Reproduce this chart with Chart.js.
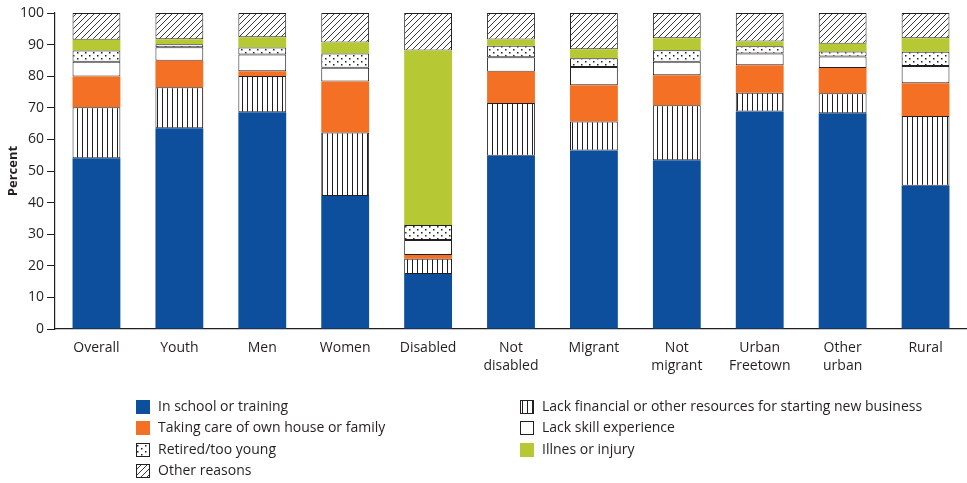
<!DOCTYPE html>
<html>
<head>
<meta charset="utf-8">
<script src="https://cdn.jsdelivr.net/npm/chart.js@4/dist/chart.umd.min.js"></script>
<style>
  body { margin: 0; background: #fff; }
  #wrap { width: 967px; height: 483px; }
</style>
</head>
<body>
<div id="wrap"><canvas id="reasonsChart" width="967" height="483"></canvas></div>
<script>
const categories = ["Overall", "Youth", "Men", "Women", "Disabled", ["Not", "disabled"], "Migrant",
    ["Not", "migrant"], ["Urban", "Freetown"], ["Other", "urban"], "Rural"];
const yTicks = [0, 10, 20, 30, 40, 50, 60, 70, 80, 90, 100];

// stacked from the bottom up
const inSchool      = [54.0, 63.5, 68.6, 42.1, 17.4, 54.8, 56.5, 53.4, 68.8, 68.3, 45.3];
const lackFinancial = [16.2, 13.0, 11.5, 20.1,  4.8, 16.7,  9.2, 17.4,  6.0,  6.3, 22.1];
const takingCare    = [ 9.7,  8.4,  1.5, 16.1,  1.2,  9.9, 11.4,  9.5,  8.7,  8.0, 10.4];
const lackSkill     = [ 4.7,  4.3,  5.3,  4.4,  4.8,  4.6,  5.8,  4.3,  3.7,  3.6,  5.4];
const retired       = [ 3.5,  0.9,  2.2,  4.5,  4.7,  3.6,  2.8,  3.6,  2.3,  1.6,  4.5];
const illness       = [ 3.4,  1.6,  3.2,  3.5, 55.2,  2.0,  2.8,  3.8,  1.5,  2.5,  4.3];
const otherReasons  = [ 8.5,  8.3,  7.7,  9.3, 11.9,  8.4, 11.5,  8.0,  9.0,  9.7,  8.0];

const seriesNames = ["In school or training", "Lack financial or other resources for starting new business",
    "Taking care of own house or family", "Lack skill experience", "Retired/too young",
    "Illnes or injury", "Other reasons"];

const ink = '#231f20';
const font = "'Open Sans', 'Noto Sans', sans-serif";

// small tiles used as fill patterns
function makePattern(kind) {
    const c = document.createElement('canvas');
    const g = c.getContext('2d');
    if (kind === 'vlines') {
        c.width = 5; c.height = 5;
        g.fillStyle = '#fff'; g.fillRect(0, 0, 5, 5);
        g.fillStyle = ink; g.fillRect(2, 0, 1, 5);
    } else if (kind === 'dots') {
        c.width = 8; c.height = 6;
        g.fillStyle = '#fff'; g.fillRect(0, 0, 8, 6);
        g.fillStyle = ink;
        g.fillRect(1, 1, 1.5, 1.5);
        g.fillRect(5, 4, 1.5, 1.5);
    } else {
        c.width = 6; c.height = 6;
        g.fillStyle = '#fff'; g.fillRect(0, 0, 6, 6);
        g.strokeStyle = ink; g.lineWidth = 0.9;
        g.beginPath();
        g.moveTo(0, 6); g.lineTo(6, 0);
        g.moveTo(-1, 1); g.lineTo(1, -1);
        g.moveTo(5, 7); g.lineTo(7, 5);
        g.stroke();
    }
    return g.createPattern(c, 'repeat');
}

const fills = ['#0e4f9d', makePattern('vlines'), '#f37024', '#ffffff', makePattern('dots'), '#b6c934', makePattern('hatch')];
const outlined = [false, true, false, true, true, false, true];
const seriesData = [inSchool, lackFinancial, takingCare, lackSkill, retired, illness, otherReasons];

const datasets = seriesData.map((d, i) => ({
    label: seriesNames[i],
    data: d,
    backgroundColor: fills[i],
    borderColor: ink,
    borderWidth: outlined[i] ? 1 : 0,
    borderSkipped: false,
    barPercentage: 0.577,
    categoryPercentage: 1
}));

// legend in two columns under the chart
const legendPlugin = {
    id: 'twoColLegend',
    afterDraw(chart) {
        const ctx = chart.ctx;
        const items = [
            [0, 136, 407], [2, 136, 428], [4, 136, 450], [6, 136, 471],
            [1, 520, 407], [3, 520, 428], [5, 520, 450]
        ];
        ctx.save();
        ctx.font = '14px ' + font;
        ctx.textBaseline = 'middle';
        items.forEach(([i, x, y]) => {
            ctx.fillStyle = fills[i];
            ctx.fillRect(x, y - 7, 14, 14);
            if (outlined[i]) {
                ctx.strokeStyle = ink;
                ctx.lineWidth = 1;
                ctx.strokeRect(x + 0.5, y - 6.5, 13, 13);
            }
            ctx.fillStyle = ink;
            ctx.fillText(seriesNames[i], x + 22, y);
        });
        ctx.restore();
    }
};

const ctx = document.getElementById('reasonsChart').getContext('2d');
new Chart(ctx, {
    type: 'bar',
    data: { labels: categories, datasets: datasets },
    plugins: [legendPlugin],
    options: {
        responsive: false,
        animation: false,
        layout: { padding: { top: 13, right: 0, bottom: 0, left: 0 } },
        plugins: {
            legend: { display: false },
            tooltip: { enabled: false }
        },
        scales: {
            x: {
                stacked: true,
                grid: { display: false },
                border: { display: true, color: ink, width: 1.2 },
                ticks: { color: ink, font: { family: font, size: 14, lineHeight: 1.3 }, padding: 2, maxRotation: 0 },
                afterFit(scale) { scale.height = 154; }
            },
            y: {
                stacked: true,
                min: 0,
                max: 100,
                afterBuildTicks(scale) { scale.ticks = yTicks.map(v => ({ value: v })); },
                grid: { drawOnChartArea: false, drawTicks: true, tickLength: 8, color: ink },
                border: { display: true, color: ink, width: 1.2 },
                ticks: { color: ink, font: { family: font, size: 14 }, padding: 3 },
                title: { display: true, text: 'Percent', color: ink, font: { family: font, size: 13, weight: 'bold' }, padding: { top: 5, bottom: 0 } },
                afterFit(scale) { scale.width = 55; }
            }
        }
    }
});
</script>
</body>
</html>
